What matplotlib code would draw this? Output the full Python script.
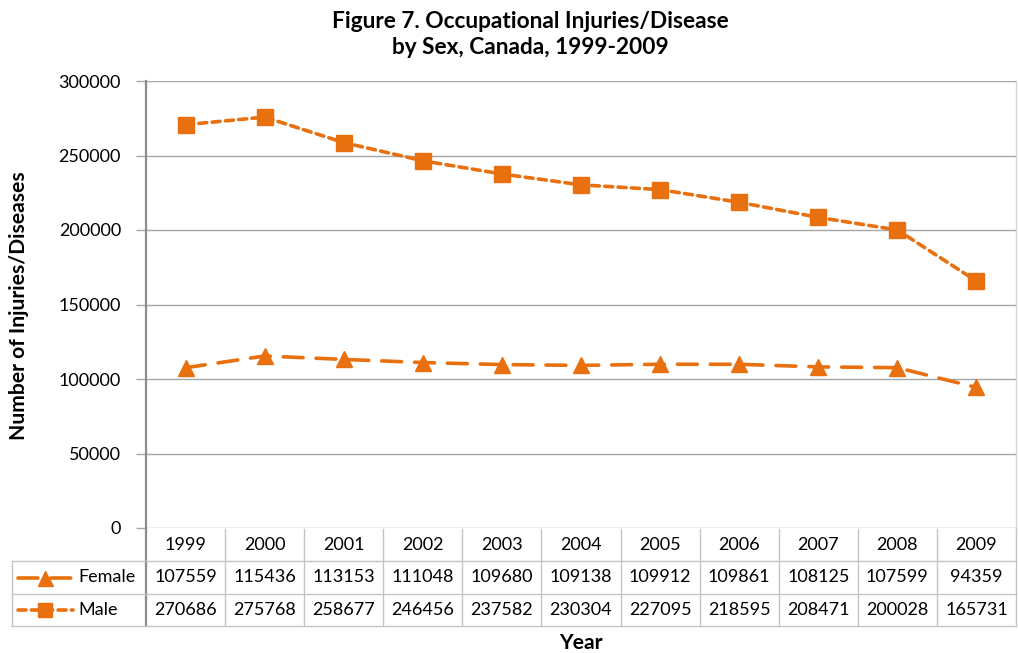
import matplotlib
matplotlib.use("Agg")
import matplotlib.pyplot as plt
import matplotlib.transforms as mtransforms
from matplotlib.lines import Line2D

plt.rcParams['font.family'] = ['Lato', 'DejaVu Sans']

years = ['1999', '2000', '2001', '2002', '2003', '2004',
         '2005', '2006', '2007', '2008', '2009']
female = [107559, 115436, 113153, 111048, 109680, 109138,
          109912, 109861, 108125, 107599, 94359]
male = [270686, 275768, 258677, 246456, 237582, 230304,
        227095, 218595, 208471, 200028, 165731]

orange = '#E8700E'
grid_c = '#A6A6A6'
table_c = '#C4C4C4'
fs = 13

W, H = 1018, 653
fig = plt.figure(figsize=(W / 100, H / 100), dpi=100)

def fy(py):
    # pixel row -> figure fraction
    return 1 - py / H

def fx(px):
    return px / W

right = 1016
ax = fig.add_axes([fx(146), fy(528), fx(right) - fx(146), fy(81) - fy(528)])
x = list(range(len(years)))

male_style = dict(color=orange, lw=2.6, dashes=(2.2, 1.5), dash_capstyle='round',
                  marker='s', ms=11, mfc=orange, mec=orange)
female_style = dict(color=orange, lw=2.6, dashes=(5.5, 3.6), dash_capstyle='round',
                    marker='^', ms=12, mfc=orange, mec=orange)

ax.plot(x, male, zorder=3, clip_on=False, **male_style)
ax.plot(x, female, zorder=3, clip_on=False, **female_style)

ax.set_xlim(-0.5, len(years) - 0.5)
ax.set_ylim(0, 300000)
ax.set_yticks(range(0, 300001, 50000))
ax.yaxis.grid(True, color=grid_c, lw=1)
ax.set_axisbelow(True)
ax.set_xticks([])
for s in ['top', 'bottom']:
    ax.spines[s].set_visible(False)
ax.spines['right'].set_color('#D4D4D4')
ax.spines['right'].set_linewidth(1)
ax.spines['left'].set_color('#8C8C8C')
ax.spines['left'].set_linewidth(1.6)
ax.tick_params(axis='y', length=7, width=1, color='#A6A6A6', labelsize=fs, pad=11)

# data table under the plot: x in category units, y in figure fraction
trans = mtransforms.blended_transform_factory(ax.transData, fig.transFigure)
rows = [529, 561, 594, 626]
ncol = len(years)

for yy in rows[1:]:
    fig.add_artist(Line2D([fx(12), fx(right)], [fy(yy), fy(yy)], color=table_c, lw=1))
fig.add_artist(Line2D([fx(12), fx(12)], [fy(rows[1]), fy(rows[3])], color=table_c, lw=1))
for i in range(ncol + 1):
    xe = i - 0.5
    ax.add_artist(Line2D([xe, xe], [fy(rows[0]), fy(rows[3])], transform=trans,
                         color=table_c if i > 0 else '#8C8C8C', lw=1 if i > 0 else 1.6,
                         clip_on=False))

for i, yr in enumerate(years):
    ax.text(i, fy((rows[0] + rows[1]) / 2), yr, transform=trans,
            ha='center', va='center', fontsize=fs)
    ax.text(i, fy((rows[1] + rows[2]) / 2), str(female[i]), transform=trans,
            ha='center', va='center', fontsize=fs)
    ax.text(i, fy((rows[2] + rows[3]) / 2), str(male[i]), transform=trans,
            ha='center', va='center', fontsize=fs)

# legend keys in the row headers
for (label, style, r) in [('Female', female_style, 1), ('Male', male_style, 2)]:
    yk = fy((rows[r] + rows[r + 1]) / 2)
    key = Line2D([fx(18), fx(45), fx(73)], [yk, yk, yk], transform=fig.transFigure,
                 markevery=[1], **style)
    key.set_markersize(style['ms'] * 0.9)
    fig.add_artist(key)
    fig.text(fx(78), yk, label, ha='left', va='center', fontsize=fs)

fig.text(fx(530), fy(22), 'Figure 7. Occupational Injuries/Disease',
         ha='center', va='center', fontsize=16.3, fontweight='bold')
fig.text(fx(530), fy(48), 'by Sex, Canada, 1999-2009',
         ha='center', va='center', fontsize=16.3, fontweight='bold')
fig.text(fx(19), fy(306), 'Number of Injuries/Diseases', rotation=90,
         ha='center', va='center', fontsize=15.2, fontweight='bold')
fig.text(fx(581), fy(643), 'Year', ha='center', va='center',
         fontsize=15.2, fontweight='bold')

fig.savefig('out.png', dpi=100)
